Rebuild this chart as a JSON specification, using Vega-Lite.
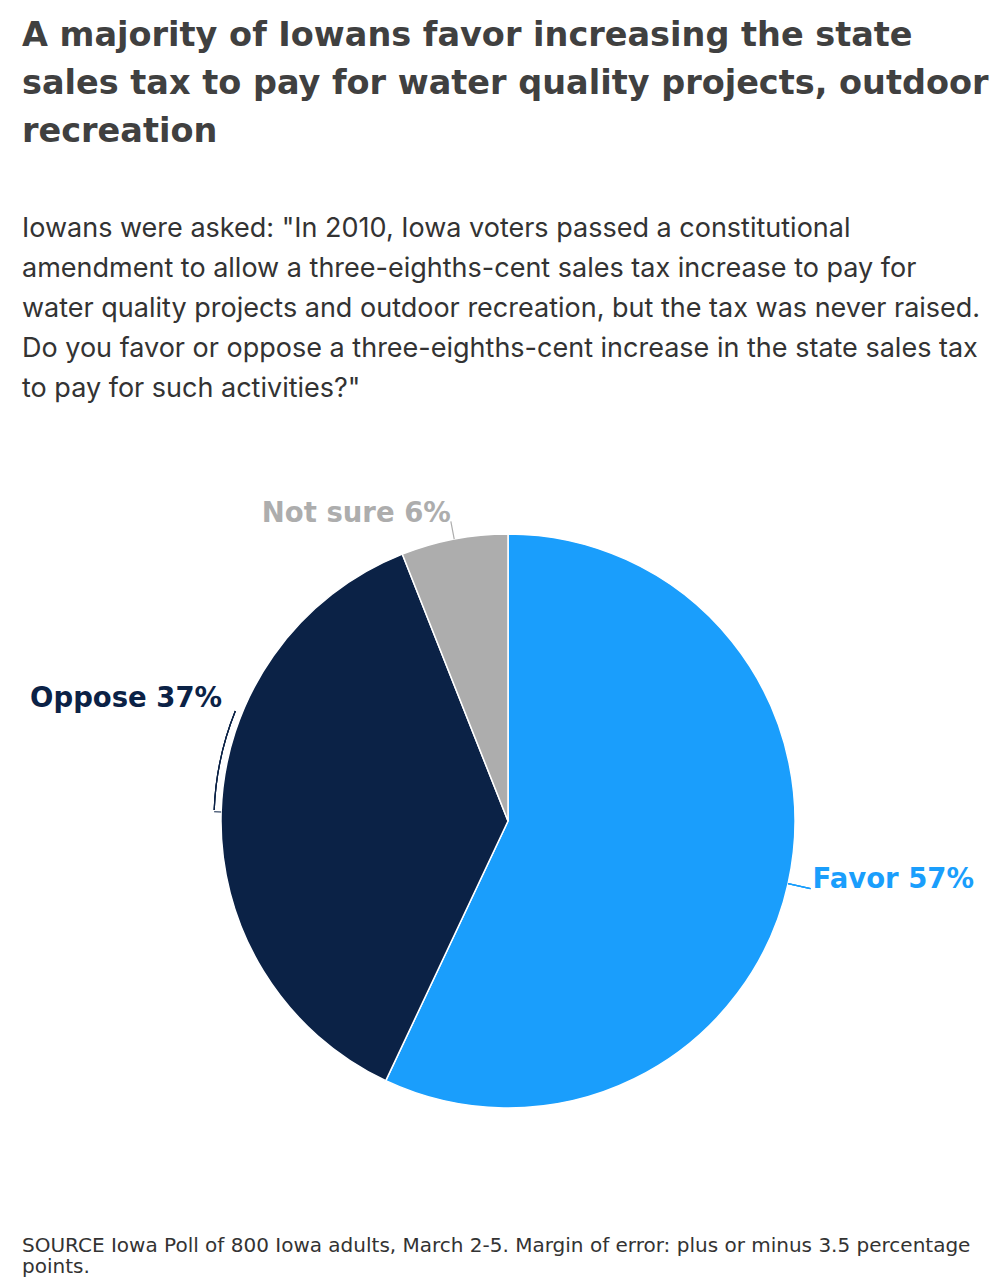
{
  "$schema": "https://vega.github.io/schema/vega-lite/v6.json",
  "background": "white",
  "padding": {"left": 22, "right": 6, "top": 18, "bottom": 10},
  "config": {"view": {"stroke": null}},
  "title": {
    "text": ["A majority of Iowans favor increasing the state", "sales tax to pay for water quality projects, outdoor", "recreation"],
    "subtitle": ["Iowans were asked: \"In 2010, Iowa voters passed a constitutional", "amendment to allow a three-eighths-cent sales tax increase to pay for", "water quality projects and outdoor recreation, but the tax was never raised.", "Do you favor or oppose a three-eighths-cent increase in the state sales tax", "to pay for such activities?\""],
    "anchor": "start",
    "frame": "group",
    "font": "DejaVu Sans",
    "fontSize": 33.5,
    "fontWeight": "bold",
    "color": "#404040",
    "lineHeight": 48,
    "subtitleFont": "Inter",
    "subtitleFontSize": 27,
    "subtitleFontWeight": "normal",
    "subtitleColor": "#333333",
    "subtitleLineHeight": 40,
    "subtitlePadding": 67,
    "offset": 2
  },
  "vconcat": [
    {
      "width": 972,
      "height": 678,
      "title": {
        "text": ["SOURCE Iowa Poll of 800 Iowa adults, March 2-5. Margin of error: plus or minus 3.5 percentage", "points."],
        "orient": "bottom",
        "anchor": "start",
        "frame": "group",
        "font": "DejaVu Sans",
        "fontSize": 20,
        "fontWeight": "normal",
        "color": "#333333",
        "lineHeight": 21,
        "offset": 76
      },
      "data": {
        "values": [
          {"answer": "Favor", "value": 57, "rank": 1, "label": "Favor 57%"},
          {"answer": "Oppose", "value": 37, "rank": 2, "label": "Oppose 37%"},
          {"answer": "Not sure", "value": 6, "rank": 3, "label": "Not sure 6%"}
        ]
      },
      "layer": [
        {
          "mark": {"type": "arc", "radius": 287, "stroke": "white", "strokeWidth": 1.5},
          "encoding": {
            "theta": {"field": "value", "type": "quantitative", "stack": true},
            "order": {"field": "rank", "type": "quantitative"},
            "color": {"field": "answer", "type": "nominal", "legend": null,
              "scale": {"domain": ["Favor", "Oppose", "Not sure"], "range": ["#1a9efc", "#0b2246", "#adadad"]}}
          }
        },
        {
          "mark": {"type": "arc", "radius": 310, "radius2": 287, "fill": "transparent", "stroke": "#1a9efc", "strokeWidth": 1.2},
          "encoding": {
            "theta": {"datum": 28.5, "type": "quantitative"},
            "theta2": {"datum": 28.5}
          }
        },
        {
          "mark": {"type": "arc", "radius": 305, "radius2": 287, "padAngle": 3.14, "fill": "transparent", "strokeWidth": 1.2},
          "encoding": {
            "theta": {"field": "value", "type": "quantitative", "stack": true},
            "order": {"field": "rank", "type": "quantitative"},
            "stroke": {"field": "answer", "type": "nominal", "legend": null,
              "scale": {"domain": ["Favor", "Oppose", "Not sure"], "range": ["#1a9efc", "#0b2246", "#adadad"]}},
            "strokeOpacity": {"condition": {"test": "datum.answer === 'Not sure'", "value": 1}, "value": 0}
          }
        },
        {
          "mark": {"type": "arc", "radius": 294, "radius2": 287, "padAngle": 3.14, "fill": "transparent", "strokeWidth": 1.2},
          "encoding": {
            "theta": {"field": "value", "type": "quantitative", "stack": true},
            "order": {"field": "rank", "type": "quantitative"},
            "stroke": {"field": "answer", "type": "nominal", "legend": null,
              "scale": {"domain": ["Favor", "Oppose", "Not sure"], "range": ["#1a9efc", "#0b2246", "#adadad"]}},
            "strokeOpacity": {"condition": {"test": "datum.answer === 'Oppose'", "value": 1}, "value": 0}
          }
        },
        {
          "mark": {"type": "arc", "radius": 294, "radius2": 294, "fill": "transparent", "stroke": "#0b2246", "strokeWidth": 1.2},
          "encoding": {
            "theta": {"datum": 75.6, "type": "quantitative"},
            "theta2": {"datum": 81.1}
          }
        },
        {
          "mark": {"type": "text", "radius": 312, "align": "left", "baseline": "alphabetic", "dy": -1, "font": "DejaVu Sans", "fontSize": 27.5, "fontWeight": "bold"},
          "encoding": {
            "theta": {"field": "value", "type": "quantitative", "stack": true},
            "order": {"field": "rank", "type": "quantitative"},
            "color": {"field": "answer", "type": "nominal", "legend": null},
            "text": {"condition": {"test": "datum.answer === 'Favor'", "field": "label"}, "value": ""}
          }
        },
        {
          "mark": {"type": "text", "radius": 305, "align": "right", "baseline": "alphabetic", "dx": 0, "dy": 1, "font": "DejaVu Sans", "fontSize": 27.5, "fontWeight": "bold"},
          "encoding": {
            "theta": {"field": "value", "type": "quantitative", "stack": true},
            "order": {"field": "rank", "type": "quantitative"},
            "color": {"field": "answer", "type": "nominal", "legend": null},
            "text": {"condition": {"test": "datum.answer === 'Not sure'", "field": "label"}, "value": ""}
          }
        },
        {
          "mark": {"type": "text", "radius": 294, "align": "right", "baseline": "alphabetic", "dx": 8, "dy": -105, "font": "DejaVu Sans", "fontSize": 27.5, "fontWeight": "bold"},
          "encoding": {
            "theta": {"field": "value", "type": "quantitative", "stack": true},
            "order": {"field": "rank", "type": "quantitative"},
            "color": {"field": "answer", "type": "nominal", "legend": null},
            "text": {"condition": {"test": "datum.answer === 'Oppose'", "field": "label"}, "value": ""}
          }
        }
      ]
    }
  ]
}
